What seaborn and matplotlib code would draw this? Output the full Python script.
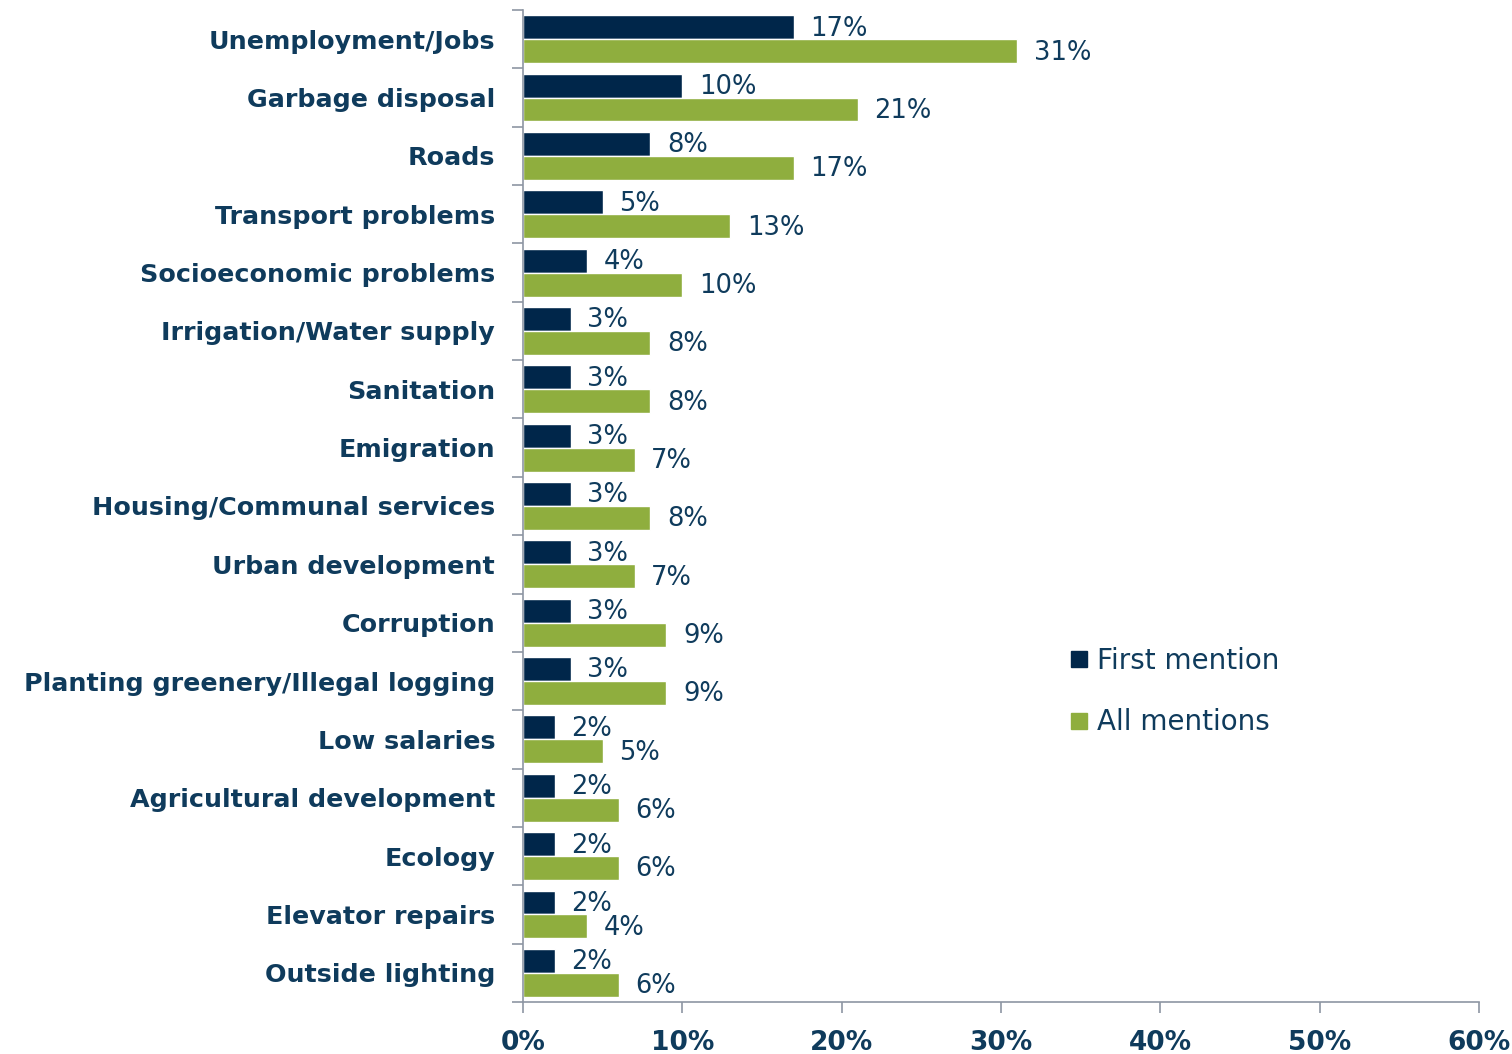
import numpy as np
import pandas as pd
import matplotlib
matplotlib.use("Agg")
import matplotlib.pyplot as plt
import seaborn as sns
from matplotlib.lines import Line2D

categories = ["Unemployment/Jobs", "Garbage disposal", "Roads", "Transport problems",
              "Socioeconomic problems", "Irrigation/Water supply", "Sanitation", "Emigration",
              "Housing/Communal services", "Urban development", "Corruption",
              "Planting greenery/Illegal logging", "Low salaries", "Agricultural development",
              "Ecology", "Elevator repairs", "Outside lighting"]
first_mention = [17, 10, 8, 5, 4, 3, 3, 3, 3, 3, 3, 3, 2, 2, 2, 2, 2]
all_mentions = [31, 21, 17, 13, 10, 8, 8, 7, 8, 7, 9, 9, 5, 6, 6, 4, 6]
series_names = ["First mention", "All mentions"]
x_ticks = [0, 10, 20, 30, 40, 50, 60]

NAVY = "#00264a"
GREEN = "#8fae3e"
TEXT = "#0f3b5c"
SPINE = "#8d96a3"

sns.set_theme(style="white")
plt.rcParams['font.family'] = ['DejaVu Sans']

df = pd.DataFrame({
    "category": categories * 2,
    "value": first_mention + all_mentions,
    "series": [series_names[0]] * len(categories) + [series_names[1]] * len(categories),
})

fig = plt.figure(figsize=(15.12, 10.54), dpi=100)
ax = fig.add_axes([523 / 1512, 1 - 1002 / 1054, (1479 - 523) / 1512, (1002 - 10) / 1054])

sns.barplot(data=df, y="category", x="value", hue="series", order=categories,
            hue_order=series_names, palette=[NAVY, GREEN], orient="h",
            width=0.82, ax=ax, legend=False, saturation=1)

ax.set_xlim(0, 60)
ax.set_ylim(len(categories) - 0.5, -0.5)
ax.set_xlabel("")
ax.set_ylabel("")

# value labels
for cont in ax.containers:
    for rect in cont:
        w = rect.get_width()
        yc = rect.get_y() + rect.get_height() / 2
        ax.annotate(f"{w:.0f}%", xy=(w, yc), xytext=(12, -1), textcoords="offset points",
                    ha="left", va="center", fontsize=18.5, color=TEXT)

ax.set_xticks(x_ticks)
ax.set_xticklabels([f"{t}%" for t in x_ticks], fontsize=19, fontweight="bold", color=TEXT)
ax.set_yticks(range(len(categories)))
ax.set_yticklabels(categories, fontsize=18.3, fontweight="bold", color=TEXT)
ax.set_yticks(np.arange(-0.5, len(categories), 1), minor=True)
ax.tick_params(axis="y", which="major", length=0, pad=20)
ax.tick_params(axis="y", which="minor", length=8, width=1.2, color=SPINE, direction="out", left=True)
ax.tick_params(axis="x", which="major", length=8, width=1.2, color=SPINE, direction="out", bottom=True, pad=12)

for s in ["top", "right"]:
    ax.spines[s].set_visible(False)
for s in ["left", "bottom"]:
    ax.spines[s].set_color(SPINE)
    ax.spines[s].set_linewidth(1.2)

handles = [Line2D([0], [0], marker="s", linestyle="", markersize=12, color=NAVY, label=series_names[0]),
           Line2D([0], [0], marker="s", linestyle="", markersize=12, color=GREEN, label=series_names[1])]
leg = ax.legend(handles=handles, loc="upper left", bbox_to_anchor=((1054 - 523) / 956, (1002 - 636) / 992),
                frameon=False, fontsize=20, handletextpad=0.15, labelspacing=1.2, handlelength=1.0,
                borderaxespad=0)
for t in leg.get_texts():
    t.set_color(TEXT)

fig.savefig("out.png", dpi=100)
